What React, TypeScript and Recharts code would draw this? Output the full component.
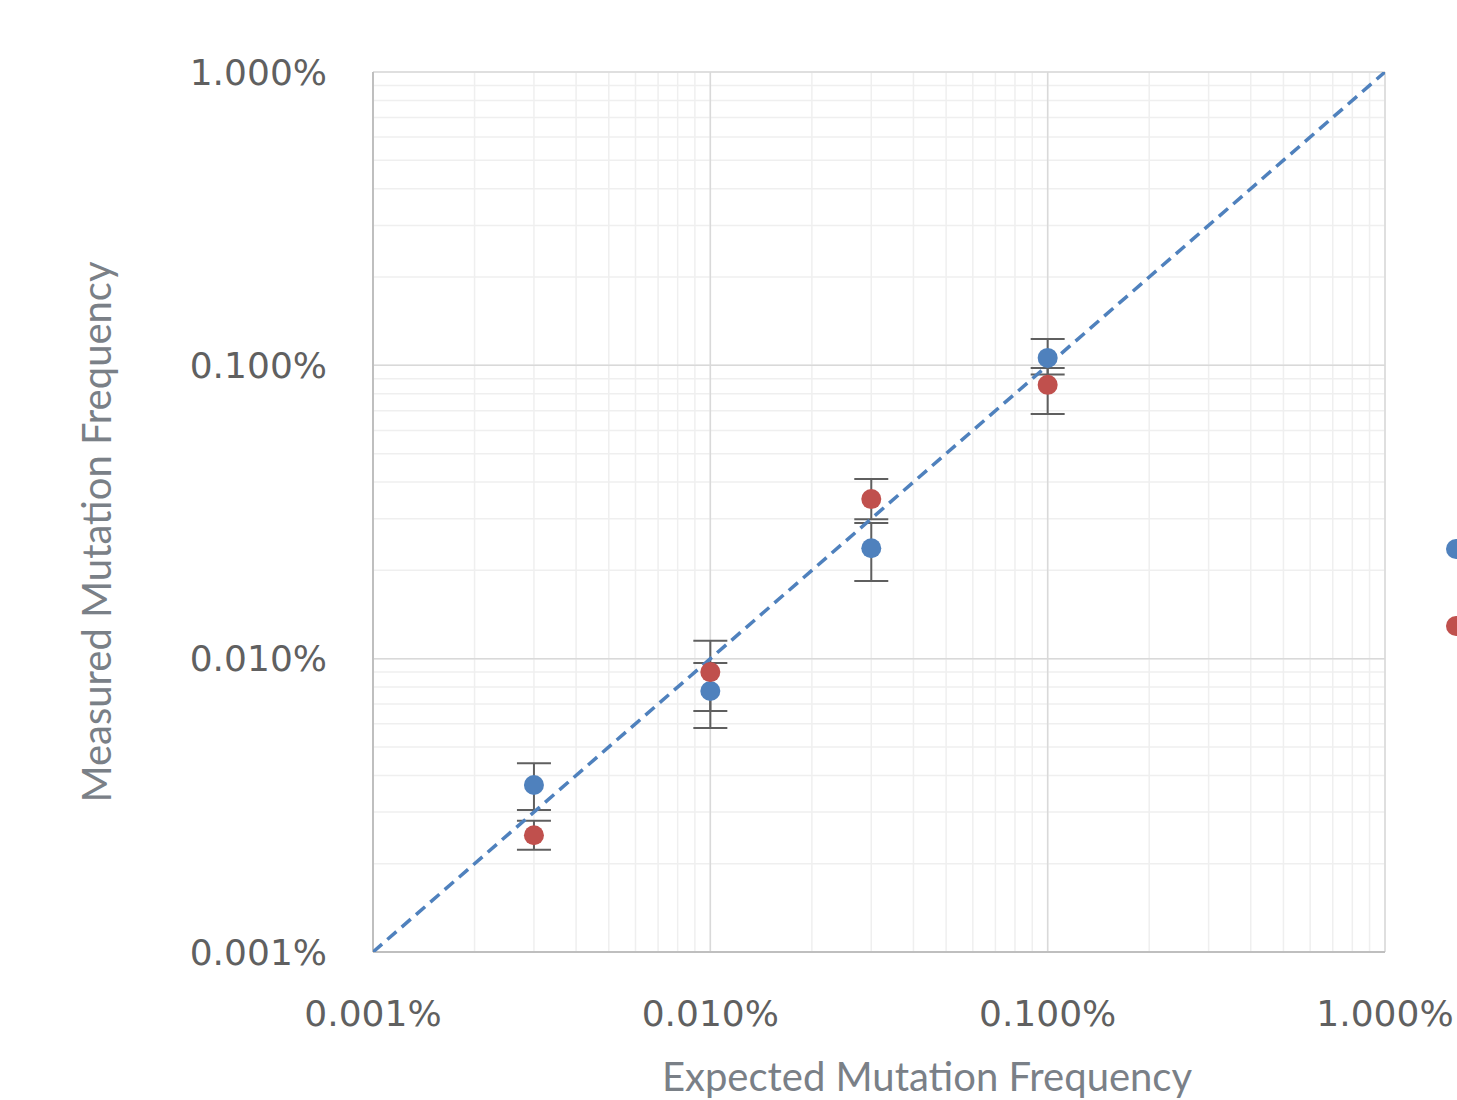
import { ScatterChart, Scatter, XAxis, YAxis, CartesianGrid, ErrorBar, ReferenceLine, Label } from 'recharts';

// all values in percent
const expected = [0.003, 0.01, 0.03, 0.1];

const sample1 = [0.00371, 0.00776, 0.0238, 0.106];
const sample1Low = [0.00305, 0.0058, 0.0184, 0.093];
const sample1High = [0.0044, 0.00967, 0.029, 0.123];

const sample2 = [0.0025, 0.009, 0.035, 0.0858];
const sample2Low = [0.00223, 0.00663, 0.0299, 0.0683];
const sample2High = [0.0028, 0.0115, 0.041, 0.098];

const identity = [0.001, 1];

const decades = [0.001, 0.01, 0.1, 1];
const gridTicks = [
  0.001, 0.002, 0.003, 0.004, 0.005, 0.006, 0.007, 0.008, 0.009,
  0.01, 0.02, 0.03, 0.04, 0.05, 0.06, 0.07, 0.08, 0.09,
  0.1, 0.2, 0.3, 0.4, 0.5, 0.6, 0.7, 0.8, 0.9,
  1,
];

const BLUE = '#4F81BD';
const RED = '#C0504D';

const build = (ys: number[], lo: number[], hi: number[]) =>
  expected.map((x, i) => ({ x, y: ys[i], err: [ys[i] - lo[i], hi[i] - ys[i]] }));

const data1 = build(sample1, sample1Low, sample1High);
const data2 = build(sample2, sample2Low, sample2High);
const lineData = identity.map((v) => ({ x: v, y: v }));

const fmt = (v: number) => (decades.includes(v) ? v.toFixed(3) + '%' : '');

const tickStyle = { fontFamily: 'DejaVu Sans', fontSize: 36, fill: '#606060' };
const titleStyle = { fontFamily: 'Lato', fontSize: 40, fill: '#7A8087' };

const dot = (color: string) => (p: any) => <circle cx={p.cx} cy={p.cy} r={10} fill={color} />;

// legend is clipped by the right edge of the picture
const LegendDots = () => (
  <>
    <div style={{ position: 'absolute', left: 1446, top: 539, width: 20, height: 20, borderRadius: 10, background: BLUE }} />
    <div style={{ position: 'absolute', left: 1446, top: 616, width: 20, height: 20, borderRadius: 10, background: RED }} />
  </>
);

export default function App() {
  return (
    <div style={{ position: 'absolute', left: 0, top: 0, width: 1457, height: 1100, overflow: 'hidden', background: '#fff' }}>
      <ScatterChart width={1600} height={1100} margin={{ top: 72, right: 215, bottom: 0, left: 0 }}>
        <CartesianGrid stroke="#EFEFEF" strokeWidth={1.5} />
        <XAxis
          type="number"
          dataKey="x"
          scale="log"
          domain={[0.001, 1]}
          ticks={gridTicks}
          tickFormatter={fmt}
          tick={tickStyle}
          tickLine={false}
          tickSize={0}
          tickMargin={48}
          axisLine={{ stroke: '#BFBFBF', strokeWidth: 2 }}
          height={148}
          interval={0}
          allowDataOverflow
        >
          <Label
            content={() => (
              <text x={927} y={1091} textAnchor="middle" style={titleStyle}>
                Expected Mutation Frequency
              </text>
            )}
          />
        </XAxis>
        <YAxis
          type="number"
          dataKey="y"
          scale="log"
          domain={[0.001, 1]}
          ticks={gridTicks}
          tickFormatter={fmt}
          tick={tickStyle}
          tickLine={false}
          tickSize={0}
          tickMargin={46}
          axisLine={{ stroke: '#BFBFBF', strokeWidth: 2 }}
          width={373}
          interval={0}
          allowDataOverflow
        >
          <Label
            content={() => (
              <text x={111} y={532} textAnchor="middle" transform="rotate(-90 111 532)" style={titleStyle}>
                Measured Mutation Frequency
              </text>
            )}
          />
        </YAxis>
        {decades.map((d) => (
          <ReferenceLine key={'vx' + d} x={d} stroke="#D9D9D9" strokeWidth={1.5} />
        ))}
        {decades.map((d) => (
          <ReferenceLine key={'hy' + d} y={d} stroke="#D9D9D9" strokeWidth={1.5} />
        ))}
        <Scatter
          name="identity"
          data={lineData}
          line={{ stroke: BLUE, strokeWidth: 3.5, strokeDasharray: '12 7' }}
          shape={() => null}
          legendType="none"
          isAnimationActive={false}
        />
        <Scatter name="Sample 1" data={data1} fill={BLUE} shape={dot(BLUE)} isAnimationActive={false}>
          <ErrorBar dataKey="err" direction="y" width={17} stroke="#5F5F5F" strokeWidth={2} />
        </Scatter>
        <Scatter name="Sample 2" data={data2} fill={RED} shape={dot(RED)} isAnimationActive={false}>
          <ErrorBar dataKey="err" direction="y" width={17} stroke="#5F5F5F" strokeWidth={2} />
        </Scatter>
      </ScatterChart>
      <LegendDots />
    </div>
  );
}
